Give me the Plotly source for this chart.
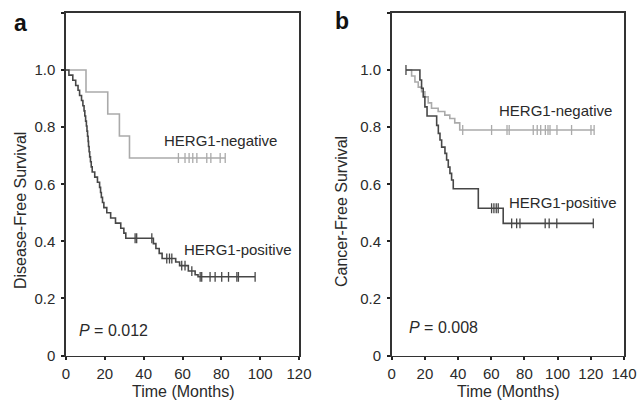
import plotly.graph_objects as go

# ---------------- data ----------------
# Panel a: Disease-free survival
pos_a_start = 0.0
pos_a_t = [1.5, 3.5, 5.0, 6.2, 7.0, 8.0, 8.7, 9.3, 9.7, 10.1, 10.5, 10.8, 11.1, 11.4, 11.6,
           11.9, 12.2, 12.6, 13.0, 13.5, 14.8, 16.2, 17.3, 17.8, 18.2, 18.8, 19.5, 21.0, 23.0,
           25.5, 28.2, 29.8, 30.8, 45.0, 46.3, 48.0, 49.5, 56.5, 58.5, 63.0, 66.5, 68.0]
pos_a_s = [0.982, 0.964, 0.946, 0.929, 0.911, 0.893, 0.875, 0.857, 0.839, 0.821, 0.804, 0.786,
           0.768, 0.750, 0.732, 0.714, 0.696, 0.679, 0.661, 0.643, 0.625, 0.607, 0.589, 0.571,
           0.554, 0.536, 0.518, 0.500, 0.482, 0.464, 0.446, 0.429, 0.411, 0.392, 0.375, 0.358,
           0.340, 0.328, 0.315, 0.296, 0.283, 0.276]
pos_a_cens = [35.6, 36.4, 44.2, 51.9, 53.3, 54.5, 59.6, 61.3, 64.8, 69.1, 69.9, 74.2, 76.8,
              80.2, 83.7, 88.0, 88.8, 97.4]

neg_a_start = 0.0
neg_a_t = [10.3, 21.5, 27.5, 32.7]
neg_a_s = [0.923, 0.846, 0.769, 0.692]
neg_a_cens = [57.9, 61.3, 63.4, 65.3, 67.4, 72.5, 74.6, 79.4, 82.0]

# Panel b: Cancer-free survival
pos_b_start = 8.6
pos_b_t = [17.0, 18.0, 19.0, 20.0, 21.3, 27.1, 28.1, 29.1, 30.1, 32.1, 33.1, 34.1, 35.1,
           36.1, 37.1, 52.2, 67.2]
pos_b_s = [0.965, 0.936, 0.906, 0.871, 0.839, 0.806, 0.778, 0.755, 0.730, 0.708, 0.685,
           0.660, 0.638, 0.615, 0.584, 0.516, 0.463]
pos_b_cens = [8.6, 60.2, 61.6, 63.0, 64.2, 72.3, 75.3, 77.3, 92.5, 94.9, 99.5, 121.5]

neg_b_start = 8.6
neg_b_t = [12.0, 14.0, 16.0, 18.0, 20.0, 22.0, 24.0, 28.0, 32.0, 35.0, 38.0, 41.0]
neg_b_s = [0.979, 0.958, 0.940, 0.924, 0.906, 0.885, 0.866, 0.855, 0.842, 0.830, 0.815, 0.790]
neg_b_cens = [42.8, 60.2, 69.5, 70.8, 85.3, 87.7, 89.8, 92.6, 94.2, 95.4, 99.6, 108.4,
              120.1, 122.0]

y_tickvals = [0, 0.2, 0.4, 0.6, 0.8, 1.0, 1.2]
y_ticktext = ["0", "0.2", "0.4", "0.6", "0.8", "1.0", ""]
xa_ticks = [0, 20, 40, 60, 80, 100, 120]
xb_ticks = [0, 20, 40, 60, 80, 100, 120, 140]

DARK = "#474747"
LIGHT = "#aaaaaa"
TXT = "#2a2a2a"
FONT = "Liberation Sans, Arial, sans-serif"


def surv_at(ts, ss, t):
    v = 1.0
    for ti, si in zip(ts, ss):
        if ti <= t:
            v = si
    return v


def curve(start, ts, ss, cens, color, xa, ya):
    end = max([ts[-1]] + cens)
    xs = [start] + ts + [end]
    ys = [1.0] + ss + [ss[-1]]
    line = go.Scatter(x=xs, y=ys, mode="lines", line=dict(color=color, width=1.6, shape="hv"),
                      xaxis=xa, yaxis=ya, showlegend=False, hoverinfo="skip", cliponaxis=False)
    marks = go.Scatter(x=cens, y=[surv_at(ts, ss, c) for c in cens], mode="markers",
                       marker=dict(symbol="line-ns", size=7,
                                   line=dict(color=color, width=1.3)),
                       xaxis=xa, yaxis=ya, showlegend=False, hoverinfo="skip")
    return [line, marks]


fig = go.Figure()
for tr in (curve(neg_a_start, neg_a_t, neg_a_s, neg_a_cens, LIGHT, "x", "y")
           + curve(pos_a_start, pos_a_t, pos_a_s, pos_a_cens, DARK, "x", "y")
           + curve(neg_b_start, neg_b_t, neg_b_s, neg_b_cens, LIGHT, "x2", "y2")
           + curve(pos_b_start, pos_b_t, pos_b_s, pos_b_cens, DARK, "x2", "y2")):
    fig.add_trace(tr)

W, H = 641, 401


def px(x):
    return x / W


def py(y):
    return 1 - y / H


ydom = [py(355.6), py(12.9)]

axis_common = dict(showline=True, linecolor="#333333", linewidth=1.6, mirror=True,
                   ticks="outside", ticklen=3, tickwidth=2, tickcolor="#222222",
                   showgrid=False, zeroline=False, automargin=False,
                   tickfont=dict(family=FONT, size=15, color=TXT))

fig.update_layout(
    width=W, height=H, margin=dict(l=0, r=0, t=0, b=0, pad=0),
    paper_bgcolor="white", plot_bgcolor="white",
    xaxis=dict(domain=[px(66), px(299)], range=[0, 120], tickvals=xa_ticks,
               anchor="y", ticklabelstandoff=1, **axis_common),
    yaxis=dict(domain=ydom, range=[0, 1.2], tickvals=y_tickvals, ticktext=y_ticktext,
               anchor="x", ticklabelstandoff=3, **axis_common),
    xaxis2=dict(domain=[px(391.7), px(624)], range=[0, 140], tickvals=xb_ticks,
                anchor="y2", ticklabelstandoff=1, **axis_common),
    yaxis2=dict(domain=ydom, range=[0, 1.2], tickvals=y_tickvals, ticktext=y_ticktext,
                anchor="x2", ticklabelstandoff=3, **axis_common),
)

ann_font = dict(family=FONT, size=15, color=TXT)
title_font = dict(family=FONT, size=16, color=TXT)
annotations = [
    dict(text="HERG1-negative", x=79.4, y=0.754, xref="x", yref="y", showarrow=False, font=ann_font),
    dict(text="HERG1-positive", x=88.7, y=0.372, xref="x", yref="y", showarrow=False, font=ann_font),
    dict(text="<i>P</i> = 0.012", x=24.7, y=0.087, xref="x", yref="y", showarrow=False,
         font=dict(family=FONT, size=16, color=TXT)),
    dict(text="HERG1-negative", x=98.8, y=0.86, xref="x2", yref="y2", showarrow=False, font=ann_font),
    dict(text="HERG1-positive", x=103.4, y=0.536, xref="x2", yref="y2", showarrow=False, font=ann_font),
    dict(text="<i>P</i> = 0.008", x=31.3, y=0.098, xref="x2", yref="y2", showarrow=False,
         font=dict(family=FONT, size=16, color=TXT)),
    dict(text="Time (Months)", x=px(183), y=py(391.5), xref="paper", yref="paper",
         showarrow=False, font=title_font),
    dict(text="Time (Months)", x=px(508), y=py(391.5), xref="paper", yref="paper",
         showarrow=False, font=title_font),
    dict(text="Disease-Free Survival", x=px(20), y=py(211), xref="paper", yref="paper",
         showarrow=False, textangle=-90, font=title_font),
    dict(text="Cancer-Free Survival", x=px(341), y=py(212), xref="paper", yref="paper",
         showarrow=False, textangle=-90, font=title_font),
    dict(text="<b>a</b>", x=px(20.5), y=py(23), xref="paper", yref="paper",
         showarrow=False, font=dict(family=FONT, size=23, color="#111111")),
    dict(text="<b>b</b>", x=px(341.5), y=py(21), xref="paper", yref="paper",
         showarrow=False, font=dict(family=FONT, size=23, color="#111111")),
]
for a in annotations:
    a.setdefault("xanchor", "center")
    a.setdefault("yanchor", "middle")
fig.update_layout(annotations=annotations)

fig.write_html("out.html",
               config={"displayModeBar": False, "staticPlot": True},
               post_script="document.body.style.margin='0px';document.body.style.overflow='hidden';")
